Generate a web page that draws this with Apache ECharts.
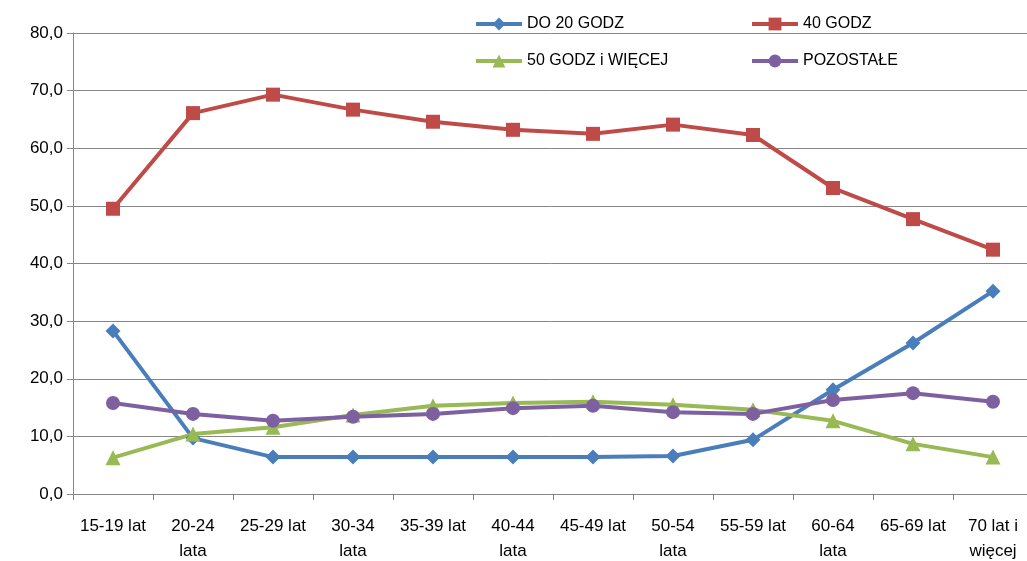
<!DOCTYPE html>
<html>
<head>
<meta charset="utf-8">
<script src="https://cdn.jsdelivr.net/npm/echarts@6/dist/echarts.min.js"></script>
<style>
  html, body { margin: 0; padding: 0; background: #fff; }
  #main { width: 1027px; height: 561px; }
</style>
</head>
<body>
<div id="main"></div>
<script>
// categories (age groups)
var categories = [
  "15-19 lat", "20-24\nlata", "25-29 lat", "30-34\nlata", "35-39 lat", "40-44\nlata",
  "45-49 lat", "50-54\nlata", "55-59 lat", "60-64\nlata", "65-69 lat", "70 lat i\nwięcej"
];
var do20 = [28.3, 9.7, 6.4, 6.4, 6.4, 6.4, 6.4, 6.6, 9.4, 18.1, 26.2, 35.2];
var godz40 = [49.5, 66.1, 69.3, 66.7, 64.6, 63.2, 62.5, 64.1, 62.3, 53.1, 47.7, 42.4];
var godz50 = [6.3, 10.4, 11.6, 13.7, 15.3, 15.8, 16.0, 15.5, 14.6, 12.7, 8.7, 6.4];
var pozostale = [15.8, 13.9, 12.7, 13.4, 13.9, 14.9, 15.3, 14.2, 13.9, 16.3, 17.5, 16.0];

var font = "'Liberation Sans', sans-serif";
var txt = { fontFamily: font, fontSize: 16, color: "#000" };

function legendAt(name, left, top) {
  return {
    data: [name], left: left, top: top, itemWidth: 46, itemHeight: 16,
    itemGap: 0, textStyle: txt, padding: 0,
    lineStyle: { width: 4 }
  };
}

function line(name, data, color, symbol, size) {
  return {
    name: name, type: "line", data: data, symbol: symbol, symbolSize: size,
    lineStyle: { color: color, width: 4 },
    itemStyle: { color: color }
  };
}

var myChart = echarts.init(document.getElementById("main"));
var option = {
  animation: false,
  legend: [
    legendAt("DO 20 GODZ", 474, 16),
    legendAt("40 GODZ", 750, 16),
    legendAt("50 GODZ i WIĘCEJ", 474, 53),
    legendAt("POZOSTAŁE", 750, 53)
  ],
  grid: { left: 73, top: 33, width: 960, bottom: 67, outerBoundsMode: "none", containLabel: false },
  xAxis: {
    type: "category",
    data: categories,
    boundaryGap: true,
    axisLine: { lineStyle: { color: "#868686", width: 1 } },
    axisTick: { show: true, length: 6, lineStyle: { color: "#868686" } },
    axisLabel: { interval: 0, margin: 20, lineHeight: 25, fontFamily: font, fontSize: 17, color: "#000" }
  },
  yAxis: {
    type: "value",
    min: 0, max: 80, interval: 10,
    axisLine: { show: true, lineStyle: { color: "#868686", width: 1 } },
    axisTick: { show: true, length: 6, lineStyle: { color: "#868686" } },
    splitLine: { lineStyle: { color: "#868686", width: 1 } },
    axisLabel: {
      margin: 10, fontFamily: font, fontSize: 17, color: "#000",
      formatter: function (v) { return v.toFixed(1).replace(".", ","); }
    }
  },
  series: [
    line("DO 20 GODZ", do20, "#4A7EBB", "diamond", 15),
    line("40 GODZ", godz40, "#BE4B48", "rect", 14),
    line("50 GODZ i WIĘCEJ", godz50, "#98B954", "triangle", 15),
    line("POZOSTAŁE", pozostale, "#7D60A0", "circle", 14)
  ]
};
myChart.setOption(option);
</script>
</body>
</html>
